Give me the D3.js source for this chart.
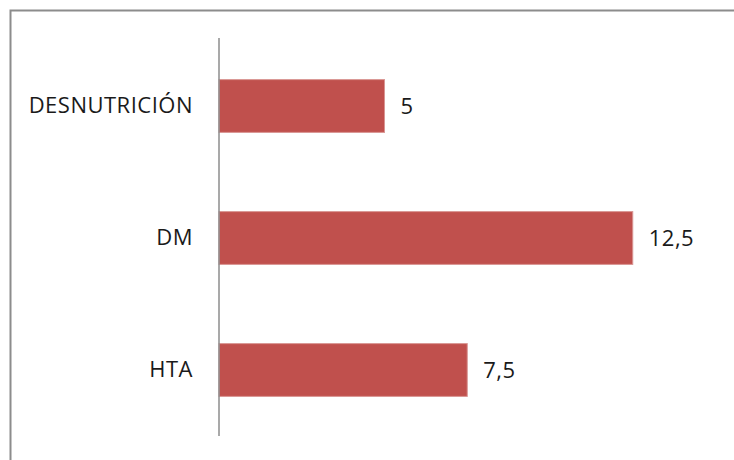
<!DOCTYPE html>
<html>
<head>
<meta charset="utf-8">
<script src="https://cdn.jsdelivr.net/npm/d3@7"></script>
<style>
  html, body { margin: 0; padding: 0; background: #fff; }
  svg { display: block; }
</style>
</head>
<body>
<svg id="chart" width="734" height="460"></svg>
<script>
// Categories, top to bottom, and their values
const categories = ["DESNUTRICIÓN", "DM", "HTA"];
const values = [5, 12.5, 7.5];
const valueLabels = ["5", "12,5", "7,5"];

const svg = d3.select("#chart");
const W = 734, H = 460;
const FONT = "Open Sans, Liberation Sans, sans-serif";

// Outer frame (runs off the right and bottom edges)
svg.append("rect")
  .attr("x", 10.5).attr("y", 10.5)
  .attr("width", W + 10).attr("height", H + 10)
  .attr("fill", "#fff")
  .attr("stroke", "#8c8c8c")
  .attr("stroke-width", 2);

const x = d3.scaleLinear().domain([0, 15]).range([219, 715.5]);
const y = d3.scaleBand().domain(categories).range([40, 436])
  .paddingInner(0.6).paddingOuter(0.3);

const data = categories.map((c, i) => ({ cat: c, v: values[i], label: valueLabels[i] }));

// Bars
svg.append("g").selectAll("rect")
  .data(data).join("rect")
  .attr("x", x(0))
  .attr("y", d => y(d.cat))
  .attr("width", d => x(d.v) - x(0))
  .attr("height", y.bandwidth())
  .attr("fill", "#c0504d")
  .attr("stroke", "#d99593")
  .attr("stroke-width", 1);

// Category axis
const axis = d3.axisLeft(y).tickSize(0).tickPadding(26);
const gAxis = svg.append("g")
  .attr("transform", `translate(${x(0)},0)`)
  .call(axis);
gAxis.select(".domain")
  .attr("stroke", "#8c8c8c")
  .attr("stroke-width", 1.5)
  .attr("d", "M0,38V436");
gAxis.selectAll("text")
  .attr("font-family", FONT)
  .attr("font-size", 22)
  .attr("letter-spacing", 0.5)
  .attr("fill", "#1a1a1a");

// Value labels
svg.append("g").selectAll("text")
  .data(data).join("text")
  .attr("x", d => x(d.v) + 16)
  .attr("y", d => y(d.cat) + y.bandwidth() / 2)
  .attr("dy", "0.35em")
  .attr("font-family", FONT)
  .attr("font-size", 22)
  .attr("letter-spacing", 0.5)
  .attr("fill", "#1a1a1a")
  .text(d => d.label);
</script>
</body>
</html>
